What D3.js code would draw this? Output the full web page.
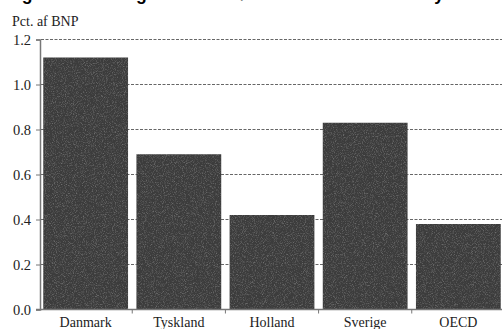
<!DOCTYPE html>
<html><head><meta charset="utf-8">
<script src="https://cdn.jsdelivr.net/npm/d3@7/dist/d3.min.js"></script>
<style>
html,body{margin:0;padding:0;background:#fff;}
svg{display:block;}
</style></head>
<body>
<svg id="chart" width="502" height="329"></svg>
<script>
const categories = ["Danmark", "Tyskland", "Holland", "Sverige", "OECD"];
const values = [1.12, 0.69, 0.42, 0.83, 0.38];
const yTicks = [0.0, 0.2, 0.4, 0.6, 0.8, 1.0, 1.2];
const yLabel = "Pct. af BNP";
const title = "Figur 2. Offentlig erhvervsstøtte til industrien i de nyeste år";

const svg = d3.select("#chart");
const W = 502, H = 329;

const x = d3.scaleBand().domain(categories).range([40, 504]).paddingInner(0.09).paddingOuter(0.035);
const y = d3.scaleLinear().domain([0, 1.2]).range([309.5, 39.5]);

const defs = svg.append("defs");
const f = defs.append("filter").attr("id", "grain").attr("x", 0).attr("y", 0).attr("width", 1).attr("height", 1);
f.append("feTurbulence").attr("type", "fractalNoise").attr("baseFrequency", 1.1).attr("numOctaves", 2).attr("seed", 3).attr("result", "n");
f.append("feColorMatrix").attr("in", "n").attr("type", "matrix")
  .attr("values", "0 0 0 0 1  0 0 0 0 1  0 0 0 0 1  1.6 0 0 0 -0.75").attr("result", "m");
f.append("feComposite").attr("in", "m").attr("in2", "SourceGraphic").attr("operator", "in");

// title (cut off at the top in the reference: only descenders show)
svg.append("text").attr("x", 6).attr("y", -0.5)
  .attr("font-family", "Liberation Sans, Arial, sans-serif").attr("font-weight", "bold")
  .attr("font-size", 17.6).attr("fill", "#000").text(title);

// y label
svg.append("text").attr("x", 12).attr("y", 26)
  .attr("font-family", "Liberation Serif, Times New Roman, serif")
  .attr("font-size", 14).attr("fill", "#222").text(yLabel);

// gridlines
svg.append("g").selectAll("line").data(yTicks.filter(d => d > 0)).join("line")
  .attr("x1", 41).attr("x2", W).attr("y1", d => y(d)).attr("y2", d => y(d))
  .attr("stroke", "#666").attr("stroke-width", 1).attr("stroke-dasharray", "3,1.5");

// bars
const bars = svg.append("g");
bars.selectAll("rect.b").data(values).join("rect").attr("class", "b")
  .attr("x", (d, i) => x(categories[i])).attr("width", x.bandwidth())
  .attr("y", d => y(d)).attr("height", d => y(0) - y(d))
  .attr("fill", "#3c3c3c");
bars.selectAll("rect.g").data(values).join("rect").attr("class", "g")
  .attr("x", (d, i) => x(categories[i])).attr("width", x.bandwidth())
  .attr("y", d => y(d)).attr("height", d => y(0) - y(d))
  .attr("fill", "#000").attr("filter", "url(#grain)").attr("opacity", 0.4);

// y axis
const yAxis = d3.axisLeft(y).tickValues(yTicks).tickFormat(d3.format(".1f")).tickSize(4).tickPadding(5);
const ya = svg.append("g").attr("transform", "translate(40,0)").call(yAxis);
ya.select(".domain").attr("stroke", "#777").attr("stroke-width", 1.5);
ya.selectAll(".tick line").attr("stroke", "#777");
ya.selectAll(".tick text").attr("font-family", "Liberation Serif, Times New Roman, serif")
  .attr("font-size", 14.5).attr("fill", "#222");

// x axis
const xAxis = d3.axisBottom(x).tickSize(0).tickPadding(8);
const xa = svg.append("g").attr("transform", "translate(0,309.5)").call(xAxis);
xa.select(".domain").remove();
xa.append("line").attr("x1", 36).attr("x2", W).attr("y1", 0).attr("y2", 0)
  .attr("stroke", "#777").attr("stroke-width", 1.5);
const step = x.step();
xa.selectAll("line.sep").data(categories.slice(0, 4)).join("line").attr("class", "sep")
  .attr("x1", d => x(d) + x.bandwidth() + (step - x.bandwidth()) / 2)
  .attr("x2", d => x(d) + x.bandwidth() + (step - x.bandwidth()) / 2)
  .attr("y1", 0).attr("y2", 4).attr("stroke", "#777");
xa.selectAll(".tick text").attr("font-family", "Liberation Serif, Times New Roman, serif")
  .attr("font-size", 14).attr("fill", "#222");
</script>
</body></html>
